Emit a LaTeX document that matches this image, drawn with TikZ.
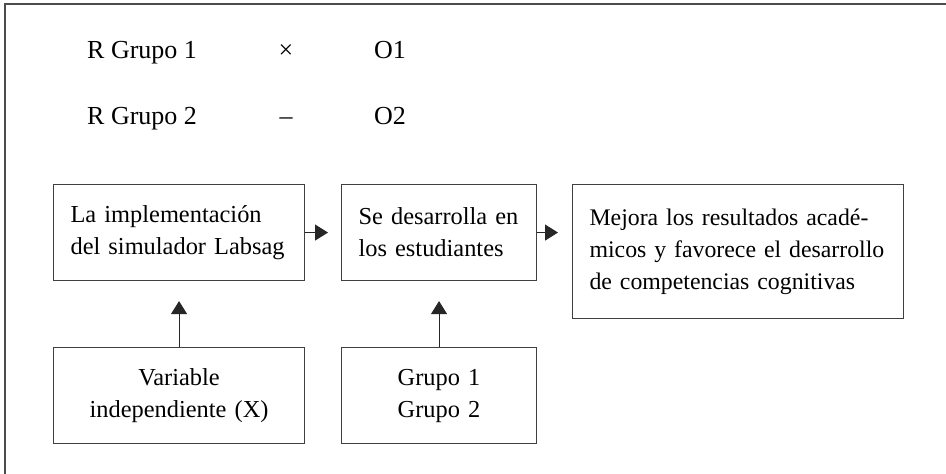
\documentclass[tikz,border=0pt]{standalone}
\usepackage{fontspec}
\setmainfont{Liberation Serif}
\usetikzlibrary{arrows.meta}
\begin{document}
\begin{tikzpicture}[x=1pt,y=-1pt,
  frameline/.style={draw=black!70,line width=1.6pt},
  boxline/.style={draw=black!75,line width=1.1pt},
  flowbox/.style={boxline,rectangle,inner xsep=17pt,inner ysep=0pt,anchor=north west,
     font=\fontsize{24.4}{32}\selectfont},
  leftbox/.style={flowbox,align=left},
  centbox/.style={flowbox,align=center},
  toptext/.style={anchor=base west,inner sep=0pt,font=\fontsize{26}{32}\selectfont},
  conn/.style={draw=black!85,line width=1.1pt,-{Triangle[length=13pt,width=16pt]}}
]
\useasboundingbox (0,0) rectangle (946,474);
\fill[white] (0,0) rectangle (946,474);
\draw[frameline] (5,480) -- (5,4) -- (950,4);

\node[toptext] (r1) at (87,58) {R Grupo 1};
\node[toptext,anchor=base] (x1) at (286,58) {×};
\node[toptext] (o1) at (374,58) {O1};
\node[toptext] (r2) at (87,124) {R Grupo 2};
\node[toptext,anchor=base] (x2) at (286,124) {–};
\node[toptext] (o2) at (374,124) {O2};

\node[leftbox,text width=217pt,minimum height=96pt] (b1) at (53,184)
  {La implementación\\del simulador Labsag};
\node[leftbox,text width=161pt,minimum height=96pt] (b2) at (341,184)
  {Se desarrolla en\\los estudiantes};
\node[leftbox,text width=297pt,minimum height=134pt,font=\fontsize{23.8}{32}\selectfont] (b3) at (572,184)
  {\makebox[292pt][s]{Mejora los resultados acadé-}\\\makebox[292pt][s]{micos y favorece el desarrollo}\\de competencias cognitivas};
\node[centbox,text width=217pt,minimum height=96pt] (b4) at (53,347)
  {Variable\\independiente (X)};
\node[centbox,text width=161pt,minimum height=96pt] (b5) at (341,347)
  {Grupo 1\\Grupo 2};

\draw[conn,shorten >=13pt] (b1.east) -- (b2.west);
\draw[conn,shorten >=14pt] (b2.east) -- (b2.east -| b3.west);
\draw[conn,shorten >=20pt] (b4.north) -- (b1.south);
\draw[conn,shorten >=20pt] (b5.north) -- (b2.south);
\end{tikzpicture}
\end{document}
